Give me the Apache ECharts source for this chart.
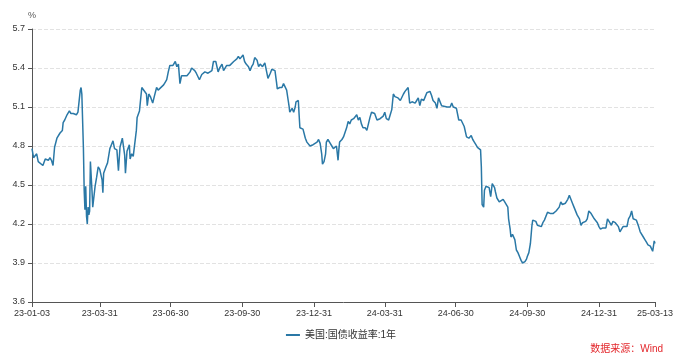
<!DOCTYPE html>
<html>
<head>
<meta charset="utf-8">
<script src="https://cdn.jsdelivr.net/npm/echarts@6/dist/echarts.min.js"></script>
<style>html,body{margin:0;padding:0;background:#fff;}#c{width:682px;height:362px;}</style>
</head>
<body>
<div id="c"></div>
<script>
const seriesName = '美国:国债收益率:1年';
const sourceText = '数据来源：Wind';
const yTicks = [3.6, 3.9, 4.2, 4.5, 4.8, 5.1, 5.4, 5.7];
const xTickDates = ['2023-01-03','2023-03-31','2023-06-30','2023-09-30','2023-12-31','2024-03-31','2024-06-30','2024-09-30','2024-12-31','2025-03-13'];

const dates = [
'2023-01-03','2023-01-05','2023-01-07','2023-01-09','2023-01-11','2023-01-13','2023-01-17','2023-01-20','2023-01-24','2023-01-26','2023-01-28','2023-01-30',
'2023-02-01','2023-02-04','2023-02-08','2023-02-11','2023-02-12','2023-02-14','2023-02-17','2023-02-20','2023-02-22','2023-02-25','2023-02-27',
'2023-03-01','2023-03-03','2023-03-05','2023-03-06','2023-03-07','2023-03-08','2023-03-10','2023-03-11','2023-03-12','2023-03-13','2023-03-14','2023-03-15','2023-03-16','2023-03-17','2023-03-18','2023-03-19','2023-03-21','2023-03-22','2023-03-25','2023-03-27','2023-03-29','2023-03-31',
'2023-04-03','2023-04-04','2023-04-05','2023-04-08','2023-04-10','2023-04-12','2023-04-13','2023-04-15','2023-04-17','2023-04-19','2023-04-22','2023-04-24','2023-04-26','2023-04-29',
'2023-05-02','2023-05-03','2023-05-05','2023-05-08','2023-05-09','2023-05-11','2023-05-13','2023-05-15','2023-05-17','2023-05-18','2023-05-21','2023-05-24','2023-05-26','2023-05-30','2023-05-31',
'2023-06-02','2023-06-04','2023-06-07','2023-06-09','2023-06-12','2023-06-14','2023-06-16','2023-06-21','2023-06-23','2023-06-25','2023-06-27','2023-06-29',
'2023-07-01','2023-07-03','2023-07-06','2023-07-08','2023-07-10','2023-07-11','2023-07-12','2023-07-14','2023-07-16','2023-07-21','2023-07-25','2023-07-27','2023-07-31',
'2023-08-02','2023-08-06','2023-08-09','2023-08-13','2023-08-17','2023-08-22','2023-08-24','2023-08-27','2023-08-30',
'2023-09-01','2023-09-04','2023-09-06','2023-09-10','2023-09-14','2023-09-19','2023-09-23','2023-09-25','2023-09-27',
'2023-10-01','2023-10-03','2023-10-05','2023-10-08','2023-10-10','2023-10-12','2023-10-14','2023-10-16','2023-10-19','2023-10-21','2023-10-23','2023-10-26','2023-10-29','2023-10-31',
'2023-11-02','2023-11-05','2023-11-07','2023-11-11','2023-11-13','2023-11-14','2023-11-17','2023-11-20','2023-11-22','2023-11-24','2023-11-26','2023-11-28','2023-11-29','2023-11-30',
'2023-12-03','2023-12-05','2023-12-07','2023-12-08','2023-12-11','2023-12-12','2023-12-13','2023-12-15','2023-12-17','2023-12-20','2023-12-22','2023-12-24','2023-12-26','2023-12-28','2023-12-30',
'2024-01-01','2024-01-04','2024-01-06','2024-01-08','2024-01-10','2024-01-11','2024-01-13','2024-01-15','2024-01-16','2024-01-18','2024-01-21','2024-01-23','2024-01-25','2024-01-27','2024-01-29','2024-01-31',
'2024-02-01','2024-02-02','2024-02-05','2024-02-07','2024-02-09','2024-02-11','2024-02-13','2024-02-15','2024-02-17','2024-02-20','2024-02-22','2024-02-24','2024-02-26','2024-02-28',
'2024-03-01','2024-03-03','2024-03-06','2024-03-08','2024-03-10','2024-03-12','2024-03-14','2024-03-16','2024-03-18','2024-03-21','2024-03-23','2024-03-25','2024-03-29','2024-03-31',
'2024-04-02','2024-04-05','2024-04-07','2024-04-09','2024-04-10','2024-04-11','2024-04-13','2024-04-15','2024-04-17','2024-04-20','2024-04-22','2024-04-24','2024-04-26','2024-04-28','2024-04-30',
'2024-05-02','2024-05-05','2024-05-07','2024-05-09','2024-05-11','2024-05-13','2024-05-15','2024-05-17','2024-05-20','2024-05-22','2024-05-24','2024-05-26','2024-05-28','2024-05-30',
'2024-06-01','2024-06-04','2024-06-06','2024-06-08','2024-06-10','2024-06-12','2024-06-14','2024-06-19','2024-06-21','2024-06-23','2024-06-25','2024-06-27',
'2024-07-01','2024-07-04','2024-07-07','2024-07-09','2024-07-11','2024-07-14','2024-07-17','2024-07-20','2024-07-22','2024-07-24','2024-07-26','2024-07-28','2024-07-30',
'2024-08-01','2024-08-02','2024-08-03','2024-08-05','2024-08-06','2024-08-08','2024-08-10','2024-08-12','2024-08-14','2024-08-16','2024-08-17','2024-08-19','2024-08-20','2024-08-22','2024-08-23','2024-08-25','2024-08-27','2024-08-30',
'2024-09-01','2024-09-03','2024-09-05','2024-09-06','2024-09-08','2024-09-09','2024-09-11','2024-09-14','2024-09-16','2024-09-18','2024-09-20','2024-09-22','2024-09-24','2024-09-26','2024-09-27','2024-09-29','2024-09-30',
'2024-10-02','2024-10-03','2024-10-04','2024-10-06','2024-10-07','2024-10-09','2024-10-11','2024-10-13','2024-10-15','2024-10-18','2024-10-20','2024-10-22','2024-10-24','2024-10-26','2024-10-28','2024-10-30',
'2024-11-02','2024-11-04','2024-11-06','2024-11-08','2024-11-10','2024-11-12','2024-11-14','2024-11-16','2024-11-18','2024-11-21','2024-11-23','2024-11-25','2024-11-27','2024-11-29',
'2024-12-01','2024-12-03','2024-12-06','2024-12-08','2024-12-10','2024-12-12','2024-12-14','2024-12-16','2024-12-18','2024-12-21','2024-12-23','2024-12-25','2024-12-27','2024-12-29','2024-12-31',
'2025-01-02','2025-01-05','2025-01-07','2025-01-09','2025-01-11','2025-01-13','2025-01-14','2025-01-16','2025-01-18','2025-01-21','2025-01-23','2025-01-25','2025-01-27','2025-01-29','2025-01-31',
'2025-02-02','2025-02-05','2025-02-07','2025-02-09','2025-02-11','2025-02-13','2025-02-15','2025-02-17','2025-02-20','2025-02-22','2025-02-24','2025-02-26','2025-02-28',
'2025-03-02','2025-03-04','2025-03-07','2025-03-09','2025-03-10','2025-03-11','2025-03-12','2025-03-13'
];

const values = [
4.78,4.71,4.70,4.74,4.68,4.69,4.65,4.70,4.69,4.71,4.69,4.65,
4.79,4.86,4.90,4.92,4.98,5.00,5.04,5.07,5.05,5.05,5.06,
5.04,5.06,5.06,5.23,5.25,5.20,4.79,4.46,4.31,4.49,4.26,4.20,4.33,4.27,4.30,4.68,4.46,4.33,4.49,4.56,4.64,4.62,
4.54,4.44,4.59,4.64,4.67,4.68,4.78,4.81,4.84,4.78,4.77,4.61,4.79,4.86,
4.73,4.59,4.76,4.81,4.70,4.74,4.72,4.73,4.92,5.02,5.07,5.25,5.25,5.20,5.11,
5.20,5.18,5.13,5.18,5.25,5.23,5.23,5.27,5.29,5.31,5.37,5.42,
5.43,5.42,5.45,5.41,5.43,5.44,5.28,5.34,5.33,5.34,5.37,5.40,5.38,
5.36,5.31,5.35,5.37,5.36,5.38,5.45,5.45,5.37,
5.40,5.43,5.38,5.42,5.42,5.45,5.47,5.49,5.47,
5.50,5.45,5.43,5.41,5.38,5.41,5.43,5.48,5.46,5.41,5.43,5.41,5.44,5.38,
5.32,5.36,5.39,5.38,5.29,5.24,5.25,5.25,5.28,5.27,5.23,5.15,5.11,5.06,
5.09,5.06,5.10,5.14,5.15,5.04,4.94,4.95,4.93,4.86,4.83,4.82,4.80,4.79,4.81,
4.80,4.83,4.85,4.82,4.74,4.66,4.68,4.74,4.83,4.85,4.82,4.80,4.78,4.77,4.80,4.69,
4.77,4.83,4.85,4.87,4.86,4.94,4.99,4.97,5.00,5.01,5.02,5.04,5.00,5.02,
4.97,4.94,4.94,4.92,4.97,5.02,5.06,5.06,5.05,5.00,4.99,5.01,5.03,5.06,
5.01,5.00,5.04,5.08,5.14,5.20,5.18,5.17,5.17,5.15,5.14,5.20,5.22,5.22,5.25,
5.13,5.14,5.13,5.13,5.15,5.17,5.11,5.16,5.15,5.18,5.21,5.22,5.22,5.19,
5.15,5.13,5.09,5.17,5.17,5.11,5.10,5.10,5.11,5.10,5.13,5.10,
5.09,5.00,5.00,5.01,4.95,4.87,4.86,4.88,4.85,4.83,4.81,4.79,4.78,
4.77,4.64,4.35,4.33,4.46,4.49,4.50,4.48,4.41,4.51,4.50,4.48,4.45,4.40,4.39,4.37,4.36,4.39,
4.37,4.36,4.33,4.24,4.16,4.10,4.12,4.08,4.00,3.98,3.95,3.92,3.90,3.89,3.91,3.93,3.95,
3.98,3.99,4.05,4.19,4.23,4.24,4.22,4.19,4.19,4.18,4.21,4.23,4.24,4.29,4.29,4.28,
4.28,4.27,4.30,4.31,4.33,4.37,4.35,4.35,4.36,4.39,4.42,4.39,4.36,4.33,
4.32,4.27,4.24,4.19,4.21,4.21,4.22,4.24,4.30,4.28,4.27,4.24,4.23,4.21,4.18,
4.16,4.17,4.18,4.17,4.24,4.24,4.21,4.19,4.22,4.21,4.21,4.18,4.14,4.16,4.18,
4.19,4.18,4.24,4.26,4.30,4.24,4.24,4.23,4.18,4.14,4.13,4.10,4.08,
4.06,4.04,4.03,4.04,3.99,4.03,4.07,4.05
];

function toTime(s) {
  const p = s.split('-').map(Number);
  return Date.UTC(p[0], p[1] - 1, p[2]);
}
function pad(n) { return (n < 10 ? '0' : '') + n; }
function fmtDate(v) {
  const d = new Date(v);
  return pad(d.getUTCFullYear() % 100) + '-' + pad(d.getUTCMonth() + 1) + '-' + pad(d.getUTCDate());
}

const data = dates.map((d, i) => [toTime(d), values[i]]);
const xTicks = xTickDates.map(toTime);
const FONT = '"Liberation Sans", Arial, "Noto Sans CJK SC", sans-serif';

const chart = echarts.init(document.getElementById('c'), null, { renderer: 'canvas' });
chart.setOption({
  animation: false,
  backgroundColor: '#ffffff',
  textStyle: { fontFamily: FONT },
  title: {
    text: sourceText,
    right: 19,
    top: 344,
    padding: 0,
    textStyle: { color: '#e3262b', fontSize: 10, fontWeight: 'normal', fontFamily: FONT }
  },
  legend: {
    data: [seriesName],
    left: 'center',
    top: 325,
    icon: 'rect',
    itemWidth: 14,
    itemHeight: 2,
    itemGap: 10,
    textStyle: { color: '#333', fontSize: 10, fontFamily: FONT }
  },
  grid: { left: 32, right: 27, top: 29, bottom: 60 },
  xAxis: {
    type: 'value',
    min: xTicks[0],
    max: xTicks[xTicks.length - 1],
    axisLine: { show: true, lineStyle: { color: '#555', width: 1 } },
    axisTick: { show: true, length: 5, lineStyle: { color: '#555' }, customValues: xTicks },
    axisLabel: {
      color: '#333', fontSize: 9, margin: 7, fontFamily: FONT,
      customValues: xTicks,
      formatter: function (v) { return fmtDate(v); },
      showMinLabel: true, showMaxLabel: true
    },
    splitLine: { show: false }
  },
  yAxis: {
    type: 'value',
    name: '%',
    nameLocation: 'end',
    nameGap: 9,
    nameTextStyle: { color: '#555', fontSize: 9, align: 'center', fontFamily: FONT },
    min: yTicks[0],
    max: yTicks[yTicks.length - 1],
    interval: 0.3,
    axisLine: { show: true, lineStyle: { color: '#555', width: 1 } },
    axisTick: { show: true, length: 4, lineStyle: { color: '#555' } },
    axisLabel: {
      color: '#333', fontSize: 9, margin: 7, fontFamily: FONT,
      formatter: function (v) { return Number(v).toFixed(1); }
    },
    splitLine: { show: true, lineStyle: { color: '#e2e2e2', type: 'dashed', width: 1 } }
  },
  series: [{
    name: seriesName,
    type: 'line',
    data: data,
    showSymbol: false,
    symbol: 'none',
    smooth: false,
    lineStyle: { color: '#2a78a6', width: 1.5 },
    itemStyle: { color: '#2a78a6' }
  }]
});
</script>
</body>
</html>
